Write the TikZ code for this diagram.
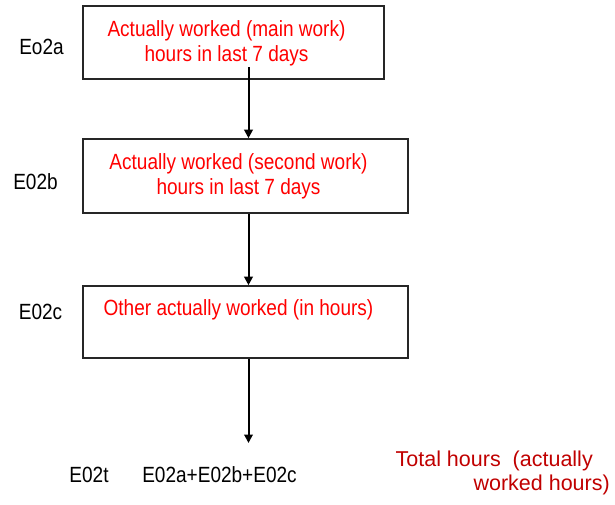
\documentclass[tikz,border=0pt]{standalone}
\usepackage{fontspec}
\setmainfont[FakeStretch=0.865]{Liberation Sans}
\newfontfamily\widefont{Liberation Sans}
\usetikzlibrary{arrows.meta}
\definecolor{boxred}{RGB}{255,0,0}
\definecolor{darkred}{RGB}{192,0,0}
\begin{document}
\begin{tikzpicture}[x=1pt,y=-1pt,
  stepbox/.style={draw=black!85,line width=1.6pt,inner sep=0pt},
  redtxt/.style={text=boxred,font=\fontsize{22}{25}\selectfont,align=center,inner sep=0pt},
  lbl/.style={text=black,font=\fontsize{22}{25}\selectfont,inner sep=0pt},
  flow/.style={line width=2pt,-{Triangle[length=8.5pt,width=8.5pt]}}]
\useasboundingbox (0,0) rectangle (615,504);
% boxes
\node[stepbox,minimum width=301pt,minimum height=73pt] (b1) at (233.5,42.5) {};
\node[stepbox,minimum width=325pt,minimum height=74pt] (b2) at (245.5,176) {};
\node[stepbox,minimum width=325pt,minimum height=72pt] (b3) at (245.5,322) {};
% box texts
\node[redtxt] (t1) at (226.5,43.5) {Actually worked (main work)\\hours in last 7 days};
\node[redtxt] (t2) at (238.5,176.5) {Actually worked (second work)\\hours in last 7 days};
\node[redtxt] (t3) at (238.5,310) {Other actually worked (in hours)};
% side labels
\node[lbl] (l1) at (41.5,47) {Eo2a};
\node[lbl] (l2) at (35.5,182) {E02b};
\node[lbl] (l3) at (40.5,312) {E02c};
% bottom
\node[lbl] (lt) at (89,475) {E02t};
\node[lbl] (sum) at (219.5,475) {E02a+E02b+E02c};
\node[text=darkred,font=\widefont\fontsize{21.5}{24}\selectfont,align=right,inner sep=0pt,anchor=north east] (tot) at (610,451) {Total hours~~(actually\hspace*{17pt}\\worked hours)};
% connectors
\coordinate (s1) at (248.5,67);
\coordinate (e3) at (248.5,443);
\draw[flow] (s1) -- (s1 |- b2.north);
\draw[flow] (s1 |- b2.south) -- (s1 |- b3.north);
\draw[flow] (s1 |- b3.south) -- (e3);
\end{tikzpicture}
\end{document}
